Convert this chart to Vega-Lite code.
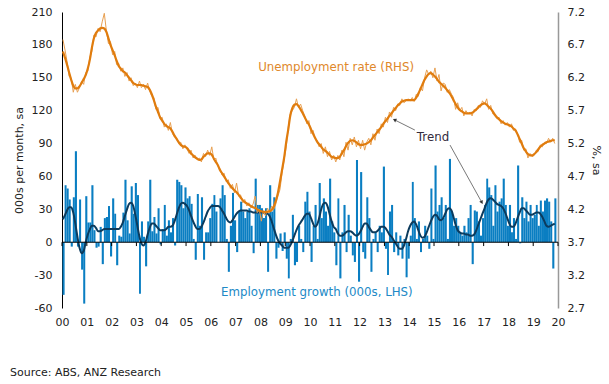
{
"$schema":"https://vega.github.io/schema/vega-lite/v6.json",
"width":496,"height":296,
"padding":{"left":10,"top":6,"right":5,"bottom":5},
"background":"white",
"config":{"view":{"stroke":null},"axis":{"labelFontSize":11,"labelColor":"#222","titleFontSize":11,"titleFontWeight":"normal","titleColor":"#222","grid":false,"labelFont":"DejaVu Sans","titleFont":"DejaVu Sans"},"text":{"font":"DejaVu Sans"},"title":{"font":"DejaVu Sans"}},
"title":{"text":"Source: ABS, ANZ Research","orient":"bottom","anchor":"start","frame":"group","offset":40,"dx":-52,"fontSize":11,"fontWeight":"normal","color":"#222"},
"datasets":{"m":[
{"d":"2000-01-15","e":-48,"et":21,"u":6.78,"ut":6.60},
{"d":"2000-02-15","e":52,"et":25,"u":6.62,"ut":6.50},
{"d":"2000-03-15","e":49,"et":29,"u":6.45,"ut":6.40},
{"d":"2000-04-15","e":39,"et":32,"u":6.22,"ut":6.28},
{"d":"2000-05-15","e":-4,"et":32,"u":6.20,"ut":6.17},
{"d":"2000-06-15","e":41,"et":27,"u":5.98,"ut":6.08},
{"d":"2000-07-15","e":83,"et":17,"u":6.10,"ut":6.04},
{"d":"2000-08-15","e":-4,"et":5,"u":5.98,"ut":6.04},
{"d":"2000-09-15","e":39,"et":-5,"u":6.05,"ut":6.07},
{"d":"2000-10-15","e":-25,"et":-10,"u":6.15,"ut":6.12},
{"d":"2000-11-15","e":-56,"et":-8,"u":6.10,"ut":6.18},
{"d":"2000-12-15","e":42,"et":0,"u":6.28,"ut":6.24},
{"d":"2001-01-15","e":18,"et":7,"u":6.30,"ut":6.34},
{"d":"2001-02-15","e":18,"et":12,"u":6.52,"ut":6.48},
{"d":"2001-03-15","e":52,"et":15,"u":6.60,"ut":6.65},
{"d":"2001-04-15","e":11,"et":15,"u":6.85,"ut":6.80},
{"d":"2001-05-15","e":-5,"et":13,"u":6.82,"ut":6.88},
{"d":"2001-06-15","e":-4,"et":10,"u":6.95,"ut":6.92},
{"d":"2001-07-15","e":14,"et":10,"u":6.90,"ut":6.95},
{"d":"2001-08-15","e":-20,"et":11,"u":7.05,"ut":6.96},
{"d":"2001-09-15","e":22,"et":12,"u":7.18,"ut":6.95},
{"d":"2001-10-15","e":23,"et":12,"u":6.92,"ut":6.90},
{"d":"2001-11-15","e":33,"et":12,"u":6.72,"ut":6.80},
{"d":"2001-12-15","e":-13,"et":12,"u":6.75,"ut":6.70},
{"d":"2002-01-15","e":40,"et":12,"u":6.55,"ut":6.62},
{"d":"2002-02-15","e":26,"et":12,"u":6.60,"ut":6.54},
{"d":"2002-03-15","e":-21,"et":12,"u":6.40,"ut":6.46},
{"d":"2002-04-15","e":6,"et":12,"u":6.42,"ut":6.38},
{"d":"2002-05-15","e":5,"et":14,"u":6.30,"ut":6.34},
{"d":"2002-06-15","e":27,"et":18,"u":6.35,"ut":6.30},
{"d":"2002-07-15","e":57,"et":24,"u":6.22,"ut":6.28},
{"d":"2002-08-15","e":20,"et":30,"u":6.28,"ut":6.24},
{"d":"2002-09-15","e":8,"et":35,"u":6.15,"ut":6.20},
{"d":"2002-10-15","e":51,"et":36,"u":6.20,"ut":6.16},
{"d":"2002-11-15","e":26,"et":33,"u":6.08,"ut":6.12},
{"d":"2002-12-15","e":54,"et":25,"u":6.12,"ut":6.10},
{"d":"2003-01-15","e":43,"et":15,"u":6.05,"ut":6.09},
{"d":"2003-02-15","e":-47,"et":5,"u":6.15,"ut":6.09},
{"d":"2003-03-15","e":19,"et":-1,"u":6.05,"ut":6.09},
{"d":"2003-04-15","e":5,"et":-3,"u":6.10,"ut":6.08},
{"d":"2003-05-15","e":-22,"et":0,"u":6.02,"ut":6.07},
{"d":"2003-06-15","e":19,"et":7,"u":6.12,"ut":6.06},
{"d":"2003-07-15","e":57,"et":13,"u":6.00,"ut":6.02},
{"d":"2003-08-15","e":10,"et":17,"u":5.92,"ut":5.95},
{"d":"2003-09-15","e":23,"et":17,"u":5.90,"ut":5.86},
{"d":"2003-10-15","e":8,"et":15,"u":5.72,"ut":5.76},
{"d":"2003-11-15","e":31,"et":13,"u":5.75,"ut":5.68},
{"d":"2003-12-15","e":-2,"et":11,"u":5.58,"ut":5.60},
{"d":"2004-01-15","e":12,"et":11,"u":5.60,"ut":5.55},
{"d":"2004-02-15","e":34,"et":11,"u":5.45,"ut":5.50},
{"d":"2004-03-15","e":6,"et":12,"u":5.50,"ut":5.47},
{"d":"2004-04-15","e":20,"et":14,"u":5.40,"ut":5.45},
{"d":"2004-05-15","e":9,"et":14,"u":5.52,"ut":5.43},
{"d":"2004-06-15","e":22,"et":15,"u":5.35,"ut":5.38},
{"d":"2004-07-15","e":-3,"et":19,"u":5.30,"ut":5.32},
{"d":"2004-08-15","e":57,"et":25,"u":5.28,"ut":5.27},
{"d":"2004-09-15","e":55,"et":31,"u":5.20,"ut":5.22},
{"d":"2004-10-15","e":52,"et":35,"u":5.22,"ut":5.18},
{"d":"2004-11-15","e":31,"et":36,"u":5.12,"ut":5.16},
{"d":"2004-12-15","e":50,"et":35,"u":5.18,"ut":5.15},
{"d":"2005-01-15","e":40,"et":33,"u":5.12,"ut":5.13},
{"d":"2005-02-15","e":42,"et":29,"u":5.05,"ut":5.09},
{"d":"2005-03-15","e":35,"et":24,"u":5.10,"ut":5.05},
{"d":"2005-04-15","e":3,"et":19,"u":4.98,"ut":5.02},
{"d":"2005-05-15","e":-16,"et":15,"u":5.02,"ut":4.99},
{"d":"2005-06-15","e":44,"et":12,"u":4.95,"ut":4.97},
{"d":"2005-07-15","e":15,"et":12,"u":4.98,"ut":4.95},
{"d":"2005-08-15","e":41,"et":14,"u":4.92,"ut":4.96},
{"d":"2005-09-15","e":-16,"et":18,"u":5.05,"ut":5.00},
{"d":"2005-10-15","e":9,"et":23,"u":5.00,"ut":5.03},
{"d":"2005-11-15","e":9,"et":28,"u":5.10,"ut":5.05},
{"d":"2005-12-15","e":22,"et":31,"u":5.02,"ut":5.05},
{"d":"2006-01-15","e":35,"et":33,"u":5.15,"ut":5.03},
{"d":"2006-02-15","e":43,"et":33,"u":4.95,"ut":4.97},
{"d":"2006-03-15","e":28,"et":33,"u":4.98,"ut":4.92},
{"d":"2006-04-15","e":0,"et":33,"u":4.85,"ut":4.87},
{"d":"2006-05-15","e":40,"et":32,"u":4.82,"ut":4.80},
{"d":"2006-06-15","e":52,"et":29,"u":4.72,"ut":4.75},
{"d":"2006-07-15","e":43,"et":26,"u":4.75,"ut":4.70},
{"d":"2006-08-15","e":3,"et":22,"u":4.62,"ut":4.65},
{"d":"2006-09-15","e":-27,"et":19,"u":4.65,"ut":4.60},
{"d":"2006-10-15","e":15,"et":18,"u":4.52,"ut":4.56},
{"d":"2006-11-15","e":45,"et":20,"u":4.58,"ut":4.52},
{"d":"2006-12-15","e":20,"et":23,"u":4.45,"ut":4.49},
{"d":"2007-01-15","e":-9,"et":26,"u":4.60,"ut":4.46},
{"d":"2007-02-15","e":28,"et":28,"u":4.40,"ut":4.42},
{"d":"2007-03-15","e":37,"et":29,"u":4.42,"ut":4.38},
{"d":"2007-04-15","e":28,"et":29,"u":4.30,"ut":4.34},
{"d":"2007-05-15","e":22,"et":29,"u":4.35,"ut":4.31},
{"d":"2007-06-15","e":28,"et":29,"u":4.25,"ut":4.29},
{"d":"2007-07-15","e":31,"et":28,"u":4.30,"ut":4.27},
{"d":"2007-08-15","e":15,"et":28,"u":4.22,"ut":4.25},
{"d":"2007-09-15","e":-10,"et":27,"u":4.28,"ut":4.23},
{"d":"2007-10-15","e":58,"et":27,"u":4.40,"ut":4.22},
{"d":"2007-11-15","e":34,"et":27,"u":4.15,"ut":4.20},
{"d":"2007-12-15","e":34,"et":27,"u":4.20,"ut":4.18},
{"d":"2008-01-15","e":31,"et":27,"u":4.02,"ut":4.17},
{"d":"2008-02-15","e":22,"et":27,"u":4.18,"ut":4.16},
{"d":"2008-03-15","e":31,"et":26,"u":4.10,"ut":4.16},
{"d":"2008-04-15","e":-27,"et":26,"u":4.22,"ut":4.16},
{"d":"2008-05-15","e":52,"et":24,"u":4.15,"ut":4.17},
{"d":"2008-06-15","e":28,"et":19,"u":4.25,"ut":4.19},
{"d":"2008-07-15","e":41,"et":13,"u":4.20,"ut":4.24},
{"d":"2008-08-15","e":-15,"et":7,"u":4.28,"ut":4.33},
{"d":"2008-09-15","e":-5,"et":2,"u":4.40,"ut":4.45},
{"d":"2008-10-15","e":8,"et":-1,"u":4.50,"ut":4.62},
{"d":"2008-11-15","e":-8,"et":-3,"u":4.75,"ut":4.80},
{"d":"2008-12-15","e":9,"et":-5,"u":4.95,"ut":4.98},
{"d":"2009-01-15","e":-15,"et":-5,"u":5.15,"ut":5.22},
{"d":"2009-02-15","e":-33,"et":-5,"u":5.45,"ut":5.42},
{"d":"2009-03-15","e":3,"et":-3,"u":5.65,"ut":5.62},
{"d":"2009-04-15","e":25,"et":1,"u":5.70,"ut":5.74},
{"d":"2009-05-15","e":-21,"et":6,"u":5.75,"ut":5.79},
{"d":"2009-06-15","e":-18,"et":11,"u":5.88,"ut":5.80},
{"d":"2009-07-15","e":15,"et":15,"u":5.75,"ut":5.77},
{"d":"2009-08-15","e":3,"et":18,"u":5.80,"ut":5.72},
{"d":"2009-09-15","e":-9,"et":21,"u":5.70,"ut":5.66},
{"d":"2009-10-15","e":37,"et":24,"u":5.62,"ut":5.60},
{"d":"2009-11-15","e":46,"et":26,"u":5.50,"ut":5.54},
{"d":"2009-12-15","e":28,"et":26,"u":5.55,"ut":5.49},
{"d":"2010-01-15","e":-18,"et":22,"u":5.35,"ut":5.42},
{"d":"2010-02-15","e":15,"et":17,"u":5.40,"ut":5.35},
{"d":"2010-03-15","e":34,"et":14,"u":5.28,"ut":5.29},
{"d":"2010-04-15","e":3,"et":16,"u":5.25,"ut":5.23},
{"d":"2010-05-15","e":54,"et":22,"u":5.15,"ut":5.19},
{"d":"2010-06-15","e":22,"et":30,"u":5.20,"ut":5.15},
{"d":"2010-07-15","e":40,"et":35,"u":5.05,"ut":5.11},
{"d":"2010-08-15","e":28,"et":36,"u":5.15,"ut":5.09},
{"d":"2010-09-15","e":15,"et":33,"u":5.00,"ut":5.06},
{"d":"2010-10-15","e":58,"et":26,"u":5.08,"ut":5.03},
{"d":"2010-11-15","e":19,"et":19,"u":4.95,"ut":5.00},
{"d":"2010-12-15","e":9,"et":14,"u":5.02,"ut":4.99},
{"d":"2011-01-15","e":-21,"et":12,"u":4.92,"ut":4.98},
{"d":"2011-02-15","e":40,"et":8,"u":5.02,"ut":4.98},
{"d":"2011-03-15","e":-33,"et":6,"u":4.95,"ut":5.00},
{"d":"2011-04-15","e":9,"et":6,"u":5.10,"ut":5.05},
{"d":"2011-05-15","e":34,"et":7,"u":5.00,"ut":5.10},
{"d":"2011-06-15","e":-9,"et":9,"u":5.22,"ut":5.16},
{"d":"2011-07-15","e":25,"et":10,"u":5.10,"ut":5.21},
{"d":"2011-08-15","e":6,"et":10,"u":5.28,"ut":5.24},
{"d":"2011-09-15","e":-12,"et":9,"u":5.18,"ut":5.25},
{"d":"2011-10-15","e":-18,"et":7,"u":5.30,"ut":5.24},
{"d":"2011-11-15","e":75,"et":6,"u":5.15,"ut":5.22},
{"d":"2011-12-15","e":-36,"et":7,"u":5.25,"ut":5.19},
{"d":"2012-01-15","e":64,"et":10,"u":5.12,"ut":5.18},
{"d":"2012-02-15","e":-9,"et":14,"u":5.25,"ut":5.18},
{"d":"2012-03-15","e":-15,"et":17,"u":5.10,"ut":5.19},
{"d":"2012-04-15","e":41,"et":17,"u":5.22,"ut":5.20},
{"d":"2012-05-15","e":22,"et":14,"u":5.28,"ut":5.22},
{"d":"2012-06-15","e":-27,"et":11,"u":5.18,"ut":5.25},
{"d":"2012-07-15","e":3,"et":9,"u":5.35,"ut":5.29},
{"d":"2012-08-15","e":9,"et":9,"u":5.25,"ut":5.33},
{"d":"2012-09-15","e":-9,"et":10,"u":5.42,"ut":5.37},
{"d":"2012-10-15","e":15,"et":12,"u":5.35,"ut":5.41},
{"d":"2012-11-15","e":9,"et":14,"u":5.50,"ut":5.45},
{"d":"2012-12-15","e":69,"et":14,"u":5.45,"ut":5.50},
{"d":"2013-01-15","e":-6,"et":13,"u":5.60,"ut":5.54},
{"d":"2013-02-15","e":-30,"et":10,"u":5.52,"ut":5.58},
{"d":"2013-03-15","e":28,"et":7,"u":5.68,"ut":5.62},
{"d":"2013-04-15","e":34,"et":5,"u":5.60,"ut":5.66},
{"d":"2013-05-15","e":-9,"et":2,"u":5.75,"ut":5.70},
{"d":"2013-06-15","e":9,"et":-1,"u":5.70,"ut":5.74},
{"d":"2013-07-15","e":-12,"et":-4,"u":5.80,"ut":5.78},
{"d":"2013-08-15","e":6,"et":-6,"u":5.78,"ut":5.81},
{"d":"2013-09-15","e":-15,"et":-6,"u":5.88,"ut":5.84},
{"d":"2013-10-15","e":3,"et":-3,"u":5.82,"ut":5.85},
{"d":"2013-11-15","e":-32,"et":3,"u":5.85,"ut":5.86},
{"d":"2013-12-15","e":-15,"et":10,"u":5.88,"ut":5.86},
{"d":"2014-01-15","e":6,"et":15,"u":5.85,"ut":5.86},
{"d":"2014-02-15","e":55,"et":18,"u":5.90,"ut":5.86},
{"d":"2014-03-15","e":22,"et":19,"u":5.84,"ut":5.86},
{"d":"2014-04-15","e":3,"et":16,"u":5.95,"ut":5.90},
{"d":"2014-05-15","e":19,"et":11,"u":5.92,"ut":5.96},
{"d":"2014-06-15","e":-9,"et":6,"u":6.05,"ut":6.03},
{"d":"2014-07-15","e":3,"et":4,"u":6.00,"ut":6.10},
{"d":"2014-08-15","e":15,"et":5,"u":6.20,"ut":6.17},
{"d":"2014-09-15","e":6,"et":9,"u":6.32,"ut":6.22},
{"d":"2014-10-15","e":-6,"et":14,"u":6.25,"ut":6.26},
{"d":"2014-11-15","e":49,"et":19,"u":6.30,"ut":6.27},
{"d":"2014-12-15","e":3,"et":23,"u":6.20,"ut":6.25},
{"d":"2015-01-15","e":70,"et":25,"u":6.35,"ut":6.22},
{"d":"2015-02-15","e":28,"et":24,"u":6.15,"ut":6.18},
{"d":"2015-03-15","e":34,"et":21,"u":6.25,"ut":6.14},
{"d":"2015-04-15","e":41,"et":20,"u":6.00,"ut":6.11},
{"d":"2015-05-15","e":22,"et":22,"u":6.12,"ut":6.08},
{"d":"2015-06-15","e":34,"et":26,"u":6.10,"ut":6.05},
{"d":"2015-07-15","e":3,"et":30,"u":5.98,"ut":6.01},
{"d":"2015-08-15","e":76,"et":31,"u":6.02,"ut":5.97},
{"d":"2015-09-15","e":28,"et":29,"u":5.95,"ut":5.92},
{"d":"2015-10-15","e":15,"et":23,"u":5.90,"ut":5.86},
{"d":"2015-11-15","e":22,"et":16,"u":5.72,"ut":5.80},
{"d":"2015-12-15","e":15,"et":11,"u":5.82,"ut":5.75},
{"d":"2016-01-15","e":9,"et":9,"u":5.70,"ut":5.71},
{"d":"2016-02-15","e":6,"et":8,"u":5.75,"ut":5.69},
{"d":"2016-03-15","e":15,"et":8,"u":5.62,"ut":5.67},
{"d":"2016-04-15","e":9,"et":7,"u":5.70,"ut":5.66},
{"d":"2016-05-15","e":22,"et":7,"u":5.65,"ut":5.66},
{"d":"2016-06-15","e":34,"et":6,"u":5.68,"ut":5.66},
{"d":"2016-07-15","e":-20,"et":6,"u":5.62,"ut":5.67},
{"d":"2016-08-15","e":29,"et":7,"u":5.72,"ut":5.69},
{"d":"2016-09-15","e":28,"et":11,"u":5.70,"ut":5.72},
{"d":"2016-10-15","e":19,"et":16,"u":5.78,"ut":5.75},
{"d":"2016-11-15","e":6,"et":21,"u":5.75,"ut":5.78},
{"d":"2016-12-15","e":22,"et":26,"u":5.85,"ut":5.80},
{"d":"2017-01-15","e":34,"et":31,"u":5.80,"ut":5.81},
{"d":"2017-02-15","e":58,"et":36,"u":5.88,"ut":5.79},
{"d":"2017-03-15","e":50,"et":39,"u":5.72,"ut":5.76},
{"d":"2017-04-15","e":43,"et":40,"u":5.78,"ut":5.73},
{"d":"2017-05-15","e":15,"et":39,"u":5.65,"ut":5.69},
{"d":"2017-06-15","e":52,"et":37,"u":5.62,"ut":5.64},
{"d":"2017-07-15","e":28,"et":35,"u":5.58,"ut":5.60},
{"d":"2017-08-15","e":37,"et":34,"u":5.60,"ut":5.57},
{"d":"2017-09-15","e":40,"et":33,"u":5.50,"ut":5.54},
{"d":"2017-10-15","e":58,"et":31,"u":5.55,"ut":5.52},
{"d":"2017-11-15","e":34,"et":27,"u":5.48,"ut":5.50},
{"d":"2017-12-15","e":15,"et":22,"u":5.52,"ut":5.49},
{"d":"2018-01-15","e":34,"et":17,"u":5.45,"ut":5.48},
{"d":"2018-02-15","e":9,"et":14,"u":5.50,"ut":5.46},
{"d":"2018-03-15","e":22,"et":14,"u":5.40,"ut":5.43},
{"d":"2018-04-15","e":3,"et":17,"u":5.42,"ut":5.40},
{"d":"2018-05-15","e":70,"et":22,"u":5.35,"ut":5.34},
{"d":"2018-06-15","e":-1,"et":27,"u":5.22,"ut":5.27},
{"d":"2018-07-15","e":41,"et":31,"u":5.25,"ut":5.20},
{"d":"2018-08-15","e":22,"et":31,"u":5.10,"ut":5.13},
{"d":"2018-09-15","e":37,"et":29,"u":5.12,"ut":5.08},
{"d":"2018-10-15","e":19,"et":27,"u":4.98,"ut":5.04},
{"d":"2018-11-15","e":34,"et":25,"u":5.05,"ut":5.02},
{"d":"2018-12-15","e":22,"et":25,"u":5.00,"ut":5.02},
{"d":"2019-01-15","e":25,"et":26,"u":5.02,"ut":5.04},
{"d":"2019-02-15","e":34,"et":27,"u":5.10,"ut":5.07},
{"d":"2019-03-15","e":15,"et":27,"u":5.08,"ut":5.11},
{"d":"2019-04-15","e":38,"et":26,"u":5.18,"ut":5.15},
{"d":"2019-05-15","e":28,"et":23,"u":5.15,"ut":5.18},
{"d":"2019-06-15","e":38,"et":19,"u":5.22,"ut":5.20},
{"d":"2019-07-15","e":40,"et":15,"u":5.20,"ut":5.22},
{"d":"2019-08-15","e":37,"et":14,"u":5.28,"ut":5.23},
{"d":"2019-09-15","e":19,"et":15,"u":5.22,"ut":5.24},
{"d":"2019-10-15","e":-24,"et":16,"u":5.28,"ut":5.25},
{"d":"2019-11-15","e":40,"et":17,"u":5.20,"ut":5.25}
],
"yr":[{"d":"2000-01-01"},{"d":"2001-01-01"},{"d":"2002-01-01"},{"d":"2003-01-01"},{"d":"2004-01-01"},{"d":"2005-01-01"},{"d":"2006-01-01"},{"d":"2007-01-01"},{"d":"2008-01-01"},{"d":"2009-01-01"},{"d":"2010-01-01"},{"d":"2011-01-01"},{"d":"2012-01-01"},{"d":"2013-01-01"},{"d":"2014-01-01"},{"d":"2015-01-01"},{"d":"2016-01-01"},{"d":"2017-01-01"},{"d":"2018-01-01"},{"d":"2019-01-01"},{"d":"2020-01-01"}]
},
"layer":[
{"layer":[
 {"data":{"name":"m"},"mark":{"type":"bar","fill":"#0a7ec2","stroke":null,"strokeWidth":0,"opacity":1,"binSpacing":0},
  "encoding":{
   "x":{"field":"d","timeUnit":"yearmonth","type":"temporal","scale":{"domain":[{"year":2000,"month":1,"date":1},{"year":2020,"month":1,"date":1}]},
        "axis":{"title":null,"tickCount":{"interval":"year","step":1},"format":"%y","labelOverlap":false,"labelFlush":false,"domain":false,"ticks":false,"labelPadding":8,"grid":false}},
   "y":{"field":"e","type":"quantitative","scale":{"domain":[-60,210],"nice":false},
        "axis":{"title":"000s per month, sa","values":[-60,-30,0,30,60,90,120,150,180,210],"tickCount":20,"format":"d","labelExpr":"datum.value < 0 ? '-' + abs(datum.value) : datum.label","labelOverlap":false,"ticks":false,"labelPadding":10,"domainColor":"#000","titlePadding":7}}}},
 {"data":{"name":"m"},"mark":{"type":"line","stroke":"#0c3b5d","fill":"transparent","strokeWidth":2,"interpolate":"monotone"},
  "encoding":{"x":{"field":"d","type":"temporal"},"y":{"field":"et","type":"quantitative"}}},
 {"data":{"values":[{"v":0}]},"mark":{"type":"rule","color":"#000","strokeWidth":1},
  "encoding":{"y":{"field":"v","type":"quantitative"}}},
 {"data":{"name":"yr"},"mark":{"type":"rule","color":"#000","strokeWidth":1},
  "encoding":{"x":{"field":"d","type":"temporal"},"y":{"datum":0,"type":"quantitative"},"y2":{"datum":-3.5}}},
 {"data":{"values":[{"d":"2010-04-12","v":-45.7,"txt":"Employment growth (000s, LHS)"}]},"mark":{"type":"text","color":"#2189c6","fontSize":11.8,"align":"center","baseline":"middle"},
  "encoding":{"x":{"field":"d","type":"temporal"},"y":{"field":"v","type":"quantitative"},"text":{"field":"txt"}}},
 {"data":{"values":[{"d":"2014-12-17","v":95.9,"txt":"Trend"}]},"mark":{"type":"text","color":"#332b3d","fontSize":11.8,"align":"center","baseline":"middle"},
  "encoding":{"x":{"field":"d","type":"temporal"},"y":{"field":"v","type":"quantitative"},"text":{"field":"txt"}}},
 {"data":{"values":[{"d":"2014-03-25","v":102.3,"d2":"2013-06-06","v2":111.4},{"d":"2015-08-25","v":88.6,"d2":"2016-12-01","v2":36.8}]},"mark":{"type":"rule","color":"#555","strokeWidth":0.8},
  "encoding":{"x":{"field":"d","type":"temporal"},"y":{"field":"v","type":"quantitative"},"x2":{"field":"d2"},"y2":{"field":"v2"}}},
 {"data":{"values":[{"d":"2013-06-06","v":111.4}]},"mark":{"type":"point","shape":"triangle","filled":true,"size":16,"angle":297,"color":"#333","opacity":1},
  "encoding":{"x":{"field":"d","type":"temporal"},"y":{"field":"v","type":"quantitative"}}},
 {"data":{"values":[{"d":"2016-12-01","v":36.8}]},"mark":{"type":"point","shape":"triangle","filled":true,"size":16,"angle":151,"color":"#333","opacity":1},
  "encoding":{"x":{"field":"d","type":"temporal"},"y":{"field":"v","type":"quantitative"}}}
]},
{"layer":[
 {"data":{"name":"m"},"mark":{"type":"line","stroke":"#e8a052","fill":"transparent","strokeWidth":1},
  "encoding":{"x":{"field":"d","type":"temporal"},
   "y":{"field":"u","type":"quantitative","scale":{"domain":[2.7,7.2],"nice":false,"zero":false},
        "axis":{"orient":"right","title":"%, sa","values":[2.7,3.2,3.7,4.2,4.7,5.2,5.7,6.2,6.7,7.2],"tickCount":20,"format":".1f","labelOverlap":false,"ticks":false,"labelPadding":9,"domainColor":"#999","domainWidth":1.5,"titlePadding":6}}}},
 {"data":{"name":"m"},"mark":{"type":"line","stroke":"#e07c0e","fill":"transparent","strokeWidth":2.2,"interpolate":"monotone"},
  "encoding":{"x":{"field":"d","type":"temporal"},"y":{"field":"ut","type":"quantitative"}}},
 {"data":{"values":[{"d":"2011-01-20","u":6.36,"txt":"Unemployment rate (RHS)"}]},"mark":{"type":"text","color":"#e0882a","fontSize":11.8,"align":"center","baseline":"middle"},
  "encoding":{"x":{"field":"d","type":"temporal"},"y":{"field":"u","type":"quantitative"},"text":{"field":"txt"}}}
]}
],
"resolve":{"scale":{"y":"independent"}}
}
